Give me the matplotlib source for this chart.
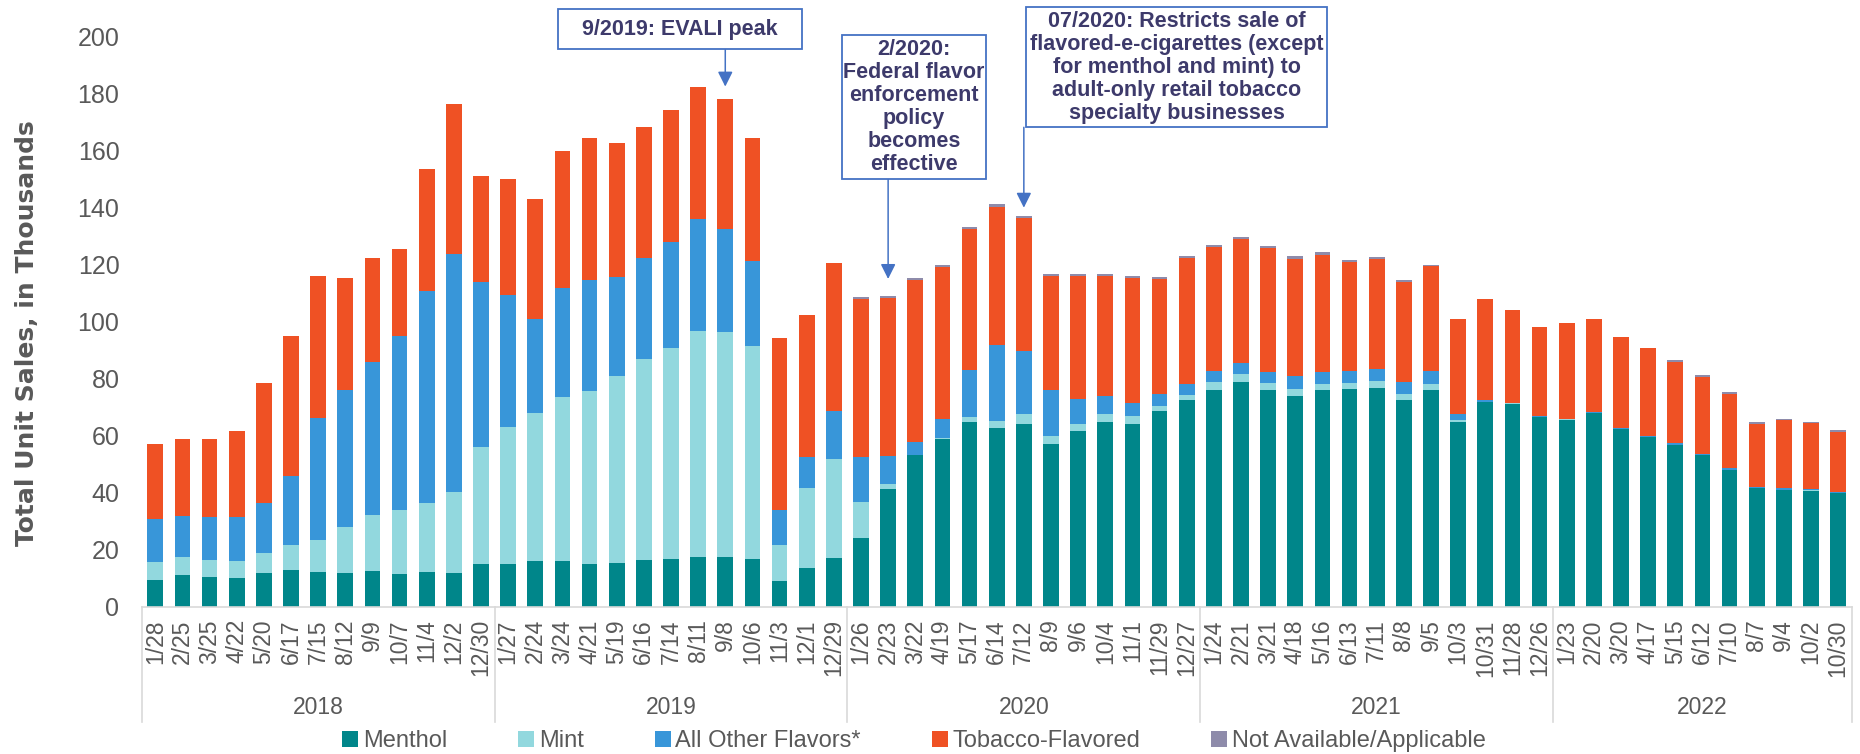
import matplotlib
matplotlib.use("Agg")
import matplotlib.pyplot as plt
import matplotlib.transforms as mtransforms
from matplotlib.patches import Rectangle
from matplotlib.lines import Line2D
import numpy as np

plt.rcParams['font.family'] = ['Liberation Sans', 'DejaVu Sans']

# 4-week periods, grouped by year
years = ['2018', '2019', '2020', '2021', '2022']
year_sizes = [13, 13, 13, 13, 11]
dates = ['1/28', '2/25', '3/25', '4/22', '5/20', '6/17', '7/15', '8/12', '9/9', '10/7', '11/4', '12/2', '12/30',
         '1/27', '2/24', '3/24', '4/21', '5/19', '6/16', '7/14', '8/11', '9/8', '10/6', '11/3', '12/1', '12/29',
         '1/26', '2/23', '3/22', '4/19', '5/17', '6/14', '7/12', '8/9', '9/6', '10/4', '11/1', '11/29', '12/27',
         '1/24', '2/21', '3/21', '4/18', '5/16', '6/13', '7/11', '8/8', '9/5', '10/3', '10/31', '11/28', '12/26',
         '1/23', '2/20', '3/20', '4/17', '5/15', '6/12', '7/10', '8/7', '9/4', '10/2', '10/30']

# unit sales in thousands
menthol = [9.5, 11.2, 10.3, 10.1, 12.0, 13.0, 12.1, 11.8, 12.5, 11.6, 12.3, 12.0, 15.1,
           15.1, 15.9, 16.0, 15.0, 15.3, 16.5, 16.9, 17.6, 17.3, 16.6, 9.1, 13.5, 17.1,
           24.1, 41.2, 53.2, 58.8, 64.8, 62.7, 64.2, 57.0, 61.5, 64.8, 64.2, 68.5, 72.4,
           75.9, 78.9, 75.9, 73.8, 75.9, 76.5, 76.9, 72.6, 75.9, 64.9, 71.9, 71.2, 66.4,
           65.6, 67.8, 62.3, 59.5, 56.8, 53.2, 48.0, 41.6, 41.0, 40.7, 39.8]
mint = [6.1, 6.3, 6.1, 6.0, 6.7, 8.6, 11.4, 16.1, 19.8, 22.4, 24.0, 28.2, 40.8,
        47.8, 52.2, 57.7, 60.8, 65.5, 70.5, 73.7, 79.1, 79.0, 75.0, 12.5, 28.1, 34.9,
        12.8, 1.8, 0.2, 0.5, 1.7, 2.6, 3.3, 3.0, 2.6, 2.9, 2.6, 2.0, 1.8,
        3.0, 2.9, 2.6, 2.6, 2.1, 2.1, 2.3, 1.9, 2.1, 0.7, 0.1, 0.1, 0.1,
        0.1, 0.1, 0.1, 0.1, 0.1, 0.1, 0.1, 0.1, 0.1, 0.1, 0.1]
other = [15.0, 14.4, 14.9, 15.2, 17.6, 24.3, 42.7, 48.1, 53.6, 61.0, 74.3, 83.6, 58.0,
         46.3, 32.7, 38.2, 38.9, 34.8, 35.2, 37.4, 39.4, 36.1, 29.7, 12.4, 11.1, 16.5,
         15.8, 10.0, 4.5, 6.4, 16.7, 26.7, 22.1, 16.2, 8.7, 6.1, 4.7, 4.0, 4.1,
         3.8, 3.7, 3.9, 4.4, 4.2, 4.0, 4.2, 4.4, 4.8, 2.0, 0.4, 0.3, 0.4,
         0.3, 0.3, 0.2, 0.3, 0.4, 0.4, 0.4, 0.3, 0.5, 0.5, 0.5]
tobacco = [26.6, 27.1, 27.5, 30.2, 42.2, 49.1, 49.9, 39.3, 36.5, 30.6, 43.0, 52.6, 37.1,
           40.8, 42.3, 48.1, 49.7, 47.0, 46.2, 46.3, 46.2, 45.9, 43.0, 60.4, 49.5, 52.0,
           55.2, 55.4, 56.8, 53.5, 49.3, 48.2, 46.9, 39.8, 43.4, 42.4, 44.0, 40.5, 44.1,
           43.5, 43.6, 43.3, 41.1, 41.1, 38.4, 38.6, 35.1, 36.8, 33.4, 35.4, 32.6, 31.4,
           33.6, 32.6, 32.1, 30.9, 28.5, 27.0, 26.2, 22.1, 23.8, 23.0, 20.8]
not_avail = [0, 0, 0, 0, 0, 0, 0, 0, 0, 0, 0, 0, 0,
             0, 0, 0, 0, 0, 0, 0, 0, 0, 0, 0, 0, 0,
             0.6, 0.6, 0.6, 0.6, 0.7, 1.0, 0.7, 0.7, 0.7, 0.7, 0.7, 0.6, 0.6,
             0.6, 0.6, 0.8, 1.0, 1.0, 0.6, 0.7, 0.6, 0.3, 0, 0, 0, 0,
             0, 0, 0, 0, 0.6, 0.7, 0.6, 0.7, 0.6, 0.6, 0.7]

series = [('Menthol', menthol, '#00868A'),
          ('Mint', mint, '#92D8DE'),
          ('All Other Flavors*', other, '#3896D9'),
          ('Tobacco-Flavored', tobacco, '#EF5124'),
          ('Not Available/Applicable', not_avail, '#8E8BAA')]

W, H = 1860, 754
GRAY = '#595959'
LINE = '#D9D9D9'
NAVY = '#3D3A6B'
BLUE = '#4472C4'


def fx(px):
    return px / W


def fy(py):
    return 1 - py / H


fig = plt.figure(figsize=(W / 100, H / 100), dpi=100)
ax = fig.add_axes([fx(141.7), fy(606.7), fx(1851.7) - fx(141.7), fy(36.7) - fy(606.7)])

x = np.arange(len(dates))
bottom = np.zeros(len(dates))
for name, vals, col in series:
    vals = np.array(vals)
    ax.bar(x, vals, width=0.58, bottom=bottom, color=col, label=name, linewidth=0)
    bottom += vals

ax.set_xlim(-0.5, len(dates) - 0.5)
ax.set_ylim(0, 200)
ax.set_yticks(range(0, 201, 20))
ax.set_xticks(x)
ax.set_xticklabels(dates, rotation=90)
ax.tick_params(axis='x', length=0, pad=9, labelsize=16.5, labelcolor=GRAY)
ax.tick_params(axis='y', length=0, pad=16, labelsize=18, labelcolor=GRAY)
for s in ['top', 'right', 'left']:
    ax.spines[s].set_visible(False)
ax.spines['bottom'].set_color(LINE)
ax.spines['bottom'].set_linewidth(1.2)

# year groups under the date labels
trans = mtransforms.blended_transform_factory(ax.transData, fig.transFigure)
edges = np.concatenate([[0], np.cumsum(year_sizes)]) - 0.5
for i, yr in enumerate(years):
    ax.text((edges[i] + edges[i + 1]) / 2, fy(708), yr, transform=trans,
            ha='center', va='center', fontsize=16.5, color=GRAY)
for e in edges:
    fig.add_artist(Line2D([e, e], [fy(606.7), fy(721.7)], transform=trans,
                          color=LINE, lw=1.2, clip_on=False))

fig.text(fx(27), fy(333), 'Total Unit Sales, in Thousands', rotation=90,
         ha='center', va='center', fontsize=18, fontweight='bold', color=GRAY,
         family='DejaVu Sans')

fig.legend(loc='center', bbox_to_anchor=(fx(914), fy(741)), ncol=5, frameon=False,
           fontsize=17, handlelength=0.68, handleheight=0.68, handletextpad=0.2,
           columnspacing=3.0, labelcolor=GRAY, borderaxespad=0, borderpad=0)


# policy notes with arrows down to the bars
def note(x0, y0, x1, y1, text):
    fig.add_artist(Rectangle((fx(x0), fy(y1)), fx(x1) - fx(x0), fy(y0) - fy(y1),
                             transform=fig.transFigure, facecolor='white',
                             edgecolor=BLUE, lw=1.3))
    fig.text(fx((x0 + x1) / 2), fy((y0 + y1) / 2), text, ha='center', va='center',
             multialignment='center', fontsize=15.5, fontweight='bold', color=NAVY,
             linespacing=1.12)


def arrow(idx, tip, y_start):
    ax.annotate('', xy=(idx, tip), xycoords='data', xytext=(idx, fy(y_start)),
                textcoords=trans, annotation_clip=False,
                arrowprops=dict(arrowstyle='-|>,head_length=0.6,head_width=0.3',
                                mutation_scale=15, color=BLUE, lw=1.1,
                                shrinkA=0, shrinkB=0))


note(557.5, 9.3, 802, 49.3, '9/2019: EVALI peak')
arrow(dates.index('9/8'), 182.5, 49.3)

note(841.6, 35, 986.4, 179.3, '2/2020:\nFederal flavor\nenforcement\npolicy\nbecomes\neffective')
arrow(dates.index('2/23'), 115.0, 179.3)

note(1026.3, 7.3, 1327, 127.3,
     '07/2020: Restricts sale of\nflavored-e-cigarettes (except\nfor menthol and mint) to\n'
     'adult-only retail tobacco\nspecialty businesses')
arrow(dates.index('7/12'), 140.0, 127.3)

fig.savefig('out.png', dpi=100)
